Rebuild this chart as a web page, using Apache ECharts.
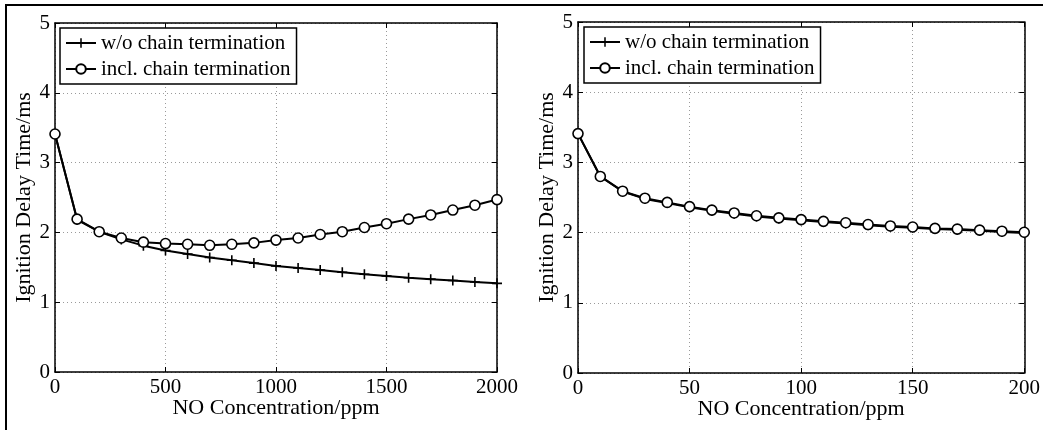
<!DOCTYPE html>
<html>
<head>
<meta charset="utf-8">
<script src="https://cdn.jsdelivr.net/npm/echarts@6/dist/echarts.min.js"></script>
<style>
html,body{margin:0;padding:0;background:#fff;}
#chart{width:1043px;height:430px;}
</style>
</head>
<body>
<div id="chart"></div>
<script>
// ---- data ----
const seriesNames = ['w/o chain termination', 'incl. chain termination'];
const xLeft = [0,100,200,300,400,500,600,700,800,900,1000,1100,1200,1300,1400,1500,1600,1700,1800,1900,2000];
const woLeft = [3.41,2.18,2.01,1.90,1.81,1.74,1.69,1.64,1.60,1.56,1.52,1.49,1.46,1.43,1.40,1.375,1.35,1.33,1.31,1.29,1.27];
const inclLeft = [3.41,2.19,2.01,1.92,1.86,1.84,1.83,1.815,1.83,1.85,1.89,1.92,1.97,2.01,2.07,2.125,2.19,2.25,2.32,2.39,2.47];
const xRight = [0,10,20,30,40,50,60,70,80,90,100,110,120,130,140,150,160,170,180,190,200];
const woRight = [3.41,2.80,2.585,2.48,2.42,2.36,2.31,2.27,2.23,2.20,2.175,2.15,2.13,2.105,2.085,2.07,2.05,2.04,2.025,2.01,1.995];
const inclRight = [3.41,2.80,2.59,2.49,2.43,2.37,2.32,2.28,2.24,2.21,2.185,2.16,2.14,2.115,2.095,2.08,2.06,2.05,2.035,2.02,2.005];
const xAxisTitle = 'NO Concentration/ppm';
const yAxisTitle = 'Ignition Delay Time/ms';

// ---- styling ----
const FONT = 'Liberation Serif';
const plusPath = 'path://M4.2,0 H5.8 V4.2 H10 V5.8 H5.8 V10 H4.2 V5.8 H0 V4.2 H4.2 Z';
const axisLine = {show:true, onZero:false, lineStyle:{color:'#000', width:1.5}};
const tick = {show:true, inside:true, length:5, lineStyle:{color:'#000', width:1}};
const grid = {show:true, lineStyle:{color:'#9a9a9a', width:1, type:[1,3]}};
const lbl = {color:'#000', fontFamily:FONT, fontSize:21};

function mainX(gi, max, interval){
  return {gridIndex:gi, type:'value', min:0, max:max, interval:interval,
    name:xAxisTitle, nameLocation:'middle', nameGap:25, nameMoveOverlap:false,
    nameTextStyle:{color:'#000', fontFamily:FONT, fontSize:22},
    axisLine:axisLine, axisTick:tick, splitLine:grid,
    axisLabel:Object.assign({margin:5, showMinLabel:true, showMaxLabel:true,
      formatter:function(v){return String(v);}}, lbl)};
}
function topX(gi, max, interval){
  return {gridIndex:gi, type:'value', position:'top', min:0, max:max, interval:interval,
    axisLine:axisLine, axisTick:tick, splitLine:{show:false}, axisLabel:{show:false}};
}
function mainY(gi){
  return {gridIndex:gi, type:'value', min:0, max:5, interval:1,
    name:yAxisTitle, nameLocation:'middle', nameGap:20, nameMoveOverlap:false,
    nameTextStyle:{color:'#000', fontFamily:FONT, fontSize:22},
    axisLine:axisLine, axisTick:tick, splitLine:grid,
    axisLabel:Object.assign({margin:5}, lbl)};
}
function rightY(gi){
  return {gridIndex:gi, type:'value', position:'right', min:0, max:5, interval:1,
    axisLine:axisLine, axisTick:tick, splitLine:{show:false}, axisLabel:{show:false}};
}
function pairs(xs, ys){ return xs.map((x,i)=>[x, ys[i]]); }
function woSeries(xi, yi, xs, ys){
  return {name:seriesNames[0], type:'line', xAxisIndex:xi, yAxisIndex:yi,
    data:pairs(xs, ys), symbol:plusPath, symbolSize:10, showAllSymbol:true,
    lineStyle:{color:'#000', width:2}, itemStyle:{color:'#000', borderWidth:0},
    animation:false, z:2};
}
function inclSeries(xi, yi, xs, ys){
  return {name:seriesNames[1], type:'line', xAxisIndex:xi, yAxisIndex:yi,
    data:pairs(xs, ys), symbol:'circle', symbolSize:10, showAllSymbol:true,
    lineStyle:{color:'#000', width:2}, itemStyle:{color:'#fff', borderColor:'#000', borderWidth:1.6},
    animation:false, z:3};
}
function legendAt(left, top){
  return {left:left, top:top, orient:'vertical', data:seriesNames,
    itemWidth:30, itemHeight:12, itemGap:4,
    padding:[4,6,4,5], borderColor:'#000', borderWidth:1.5, backgroundColor:'#fff',
    textStyle:{color:'#000', fontFamily:FONT, fontSize:21, lineHeight:22},
    selectedMode:false};
}

const chart = echarts.init(document.getElementById('chart'), null, {renderer:'canvas'});
chart.setOption({
  backgroundColor:'#fff',
  animation:false,
  graphic:[
    {type:'line', shape:{x1:5, y1:5, x2:1043, y2:5}, style:{stroke:'#000', lineWidth:2}},
    {type:'line', shape:{x1:6, y1:5, x2:6, y2:430}, style:{stroke:'#000', lineWidth:2}}
  ],
  grid:[
    {left:55, top:23, width:442, height:349},
    {left:578, top:22, width:447, height:351}
  ],
  legend:[legendAt(60, 28), legendAt(584, 27)],
  xAxis:[mainX(0, 2000, 500), topX(0, 2000, 500), mainX(1, 200, 50), topX(1, 200, 50)],
  yAxis:[mainY(0), rightY(0), mainY(1), rightY(1)],
  series:[
    woSeries(0, 0, xLeft, woLeft),
    inclSeries(0, 0, xLeft, inclLeft),
    woSeries(2, 2, xRight, woRight),
    inclSeries(2, 2, xRight, inclRight)
  ]
});
</script>
</body>
</html>
